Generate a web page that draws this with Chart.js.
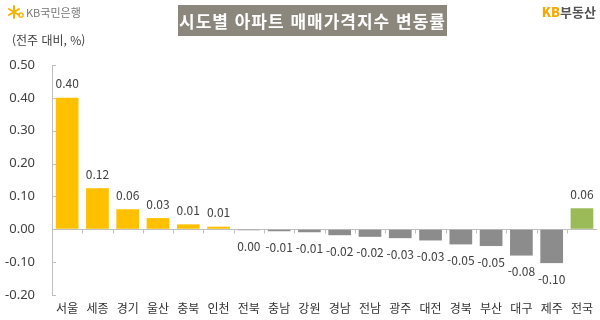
<!DOCTYPE html>
<html lang="ko">
<head>
  <meta charset="UTF-8" />
  <title>시도별 아파트 매매가격지수 변동률</title>
  <script src="https://cdn.jsdelivr.net/npm/chart.js"></script>
  <style>
    body { margin: 0; background: #fff; font-family: "Noto Sans CJK KR", "Noto Sans", sans-serif; }
    #wrap { position: relative; width: 600px; height: 320px; overflow: hidden; }
    #chart { position: absolute; left: 0; top: 0; }
    .logo { position: absolute; left: 8px; top: 4px; font-size: 11px; color: #777; display: flex; align-items: center; gap: 2px; }
    .title { position: absolute; left: 178px; top: 5px; width: 269px; height: 31px; background: #8b877c;
             color: #fff; font-weight: bold; font-size: 17px; line-height: 31px; text-align: center; letter-spacing: 1px; }
    .brand { position: absolute; right: 4px; top: 2px; font-size: 13px; font-weight: bold; color: #555; }
    .brand b { color: #f5a800; }
    .unit { position: absolute; left: 12px; top: 31px; font-size: 12px; color: #404040; }
  </style>
</head>
<body>
  <div id="wrap">
    <canvas id="chart" width="600" height="320"></canvas>
    <div class="logo">
      <svg width="16" height="14" viewBox="0 0 16 14">
        <g stroke="#f5b400" stroke-width="2" stroke-linecap="round">
          <line x1="6" y1="1" x2="6" y2="13"/><line x1="1" y1="4" x2="11" y2="10"/><line x1="1" y1="10" x2="11" y2="4"/>
        </g>
        <circle cx="13" cy="10" r="2.2" fill="none" stroke="#f5b400" stroke-width="1.3"/>
      </svg>
      <span>KB국민은행</span>
    </div>
    <div class="title">시도별 아파트 매매가격지수 변동률</div>
    <div class="brand"><b>KB</b>부동산</div>
    <div class="unit">(전주 대비, %)</div>
  </div>

  <script>
    // regions and weekly change (%)
    const regions = ['서울', '세종', '경기', '울산', '충북', '인천', '전북', '충남', '강원',
                     '경남', '전남', '광주', '대전', '경북', '부산', '대구', '제주', '전국'];
    const changes = [0.40, 0.125, 0.061, 0.034, 0.015, 0.008, -0.003, -0.006, -0.009,
                     -0.018, -0.023, -0.027, -0.034, -0.046, -0.051, -0.080, -0.103, 0.064];
    const changeLabels = ['0.40', '0.12', '0.06', '0.03', '0.01', '0.01', '0.00', '-0.01', '-0.01',
                          '-0.02', '-0.02', '-0.03', '-0.03', '-0.05', '-0.05', '-0.08', '-0.10', '0.06'];
    const yTicks = [-0.2, -0.1, 0, 0.1, 0.2, 0.3, 0.4, 0.5];

    const YELLOW = '#ffc000', GRAY = '#8c8c8c', GREEN = '#9bbb59';
    const barColors = regions.map((r, i) =>
      r === '전국' ? GREEN : (changes[i] >= 0 ? YELLOW : GRAY));

    // value labels above / below bars
    const valueLabels = {
      id: 'valueLabels',
      afterDatasetsDraw(chart) {
        const ctx = chart.ctx;
        const meta = chart.getDatasetMeta(0);
        ctx.save();
        ctx.font = '12px "Noto Sans CJK KR", "Noto Sans", sans-serif';
        ctx.fillStyle = '#404040';
        ctx.textAlign = 'center';
        ctx.textBaseline = 'middle';
        meta.data.forEach((bar, i) => {
          const y = changes[i] >= 0 ? bar.y - 14 : bar.y + 16;
          ctx.fillText(changeLabels[i], bar.x, y);
        });
        ctx.restore();
      }
    };

    // small tick marks on the y axis and between categories on the zero line
    const axisMarks = {
      id: 'axisMarks',
      afterDraw(chart) {
        const ctx = chart.ctx, y = chart.scales.y;
        ctx.save();
        ctx.strokeStyle = '#bfbfbf';
        ctx.lineWidth = 1;
        ctx.beginPath();
        yTicks.forEach(v => {
          const py = Math.round(y.getPixelForValue(v)) + 0.5;
          ctx.moveTo(chart.chartArea.left, py);
          ctx.lineTo(chart.chartArea.left + 4, py);
        });
        const zy = Math.round(y.getPixelForValue(0)) + 0.5;
        const step = (chart.chartArea.right - chart.chartArea.left) / regions.length;
        for (let i = 1; i < regions.length; i++) {
          const px = Math.round(chart.chartArea.left + step * i) + 0.5;
          ctx.moveTo(px, zy);
          ctx.lineTo(px, zy + 4);
        }
        ctx.stroke();
        ctx.restore();
      }
    };

    new Chart(document.getElementById('chart'), {
      type: 'bar',
      data: {
        labels: regions,
        datasets: [{
          data: changes,
          backgroundColor: barColors,
          barPercentage: 0.75,
          categoryPercentage: 1,
        }],
      },
      options: {
        responsive: false,
        animation: false,
        layout: { padding: { top: 65, right: 0, bottom: 0, left: 0 } },
        plugins: { legend: { display: false }, tooltip: { enabled: false } },
        scales: {
          x: {
            grid: { display: false, drawTicks: false },
            border: { display: false },
            ticks: {
              color: '#333',
              font: { size: 12, family: '"Noto Sans CJK KR", sans-serif', lineHeight: 1 },
              padding: 7,
              maxRotation: 0,
              autoSkip: false,
            },
            afterFit(scale) { scale.height = 25; },
          },
          y: {
            min: -0.2,
            max: 0.5,
            afterBuildTicks(scale) { scale.ticks = yTicks.map(v => ({ value: v })); },
            grid: {
              drawTicks: false,
              color: c => (c.tick && c.tick.value === 0 ? '#bfbfbf' : 'transparent'),
            },
            border: { display: true, color: '#bfbfbf' },
            ticks: {
              color: '#404040',
              font: { size: 13, family: '"Noto Sans", sans-serif' },
              padding: 17,
              callback: v => v.toFixed(2),
            },
            afterFit(scale) { scale.width = 52; },
          },
        },
      },
      plugins: [valueLabels, axisMarks],
    });
  </script>
</body>
</html>
